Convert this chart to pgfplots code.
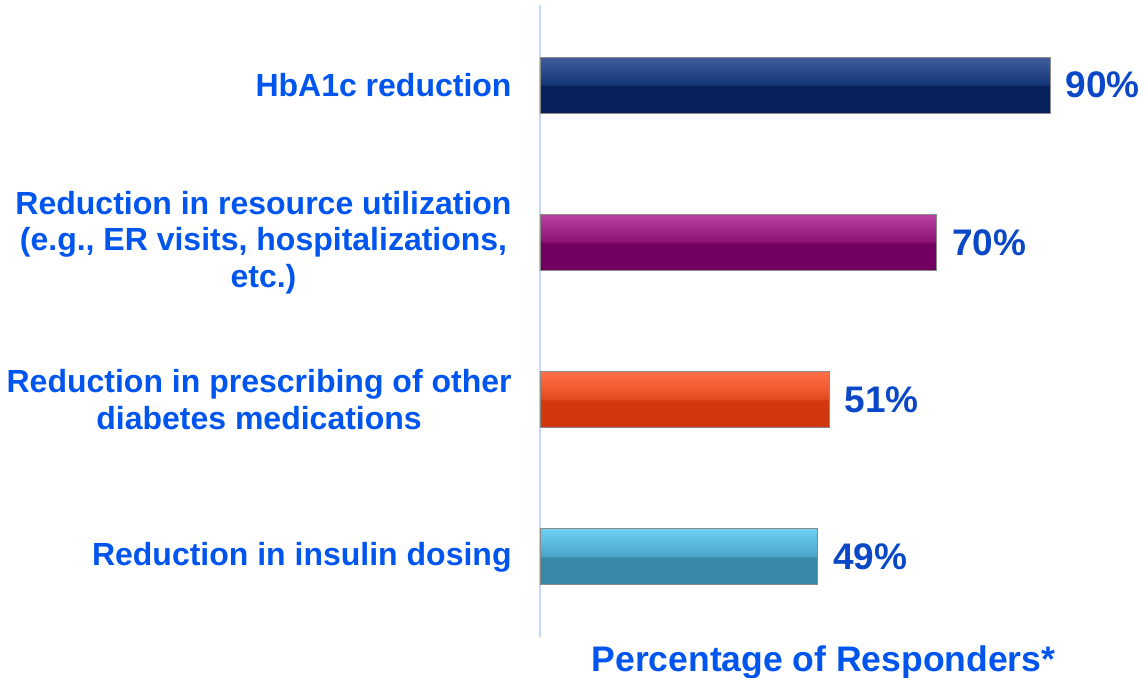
\documentclass[border=0pt]{standalone}
\usepackage{pgfplots}
\pgfplotsset{compat=1.18}
\usepackage{fontspec}
\setmainfont{Liberation Sans}
\definecolor{lblblue}{HTML}{0055EE}
\definecolor{valblue}{HTML}{0A48C8}
\definecolor{axblue}{HTML}{C4D8FF}
\definecolor{barline}{HTML}{8A8A8A}
\pgfdeclareverticalshading{navybar}{100bp}{color(0bp)=(rgb,255:red,5;green,28;blue,80); color(25bp)=(rgb,255:red,5;green,28;blue,80); color(27bp)=(rgb,255:red,7;green,33;blue,92); color(49bp)=(rgb,255:red,7;green,33;blue,92); color(51bp)=(rgb,255:red,22;green,55;blue,120); color(75bp)=(rgb,255:red,64;green,94;blue,158); color(100bp)=(rgb,255:red,64;green,94;blue,158)}
\pgfdeclareverticalshading{magbar}{100bp}{color(0bp)=(rgb,255:red,100;green,0;blue,85); color(25bp)=(rgb,255:red,100;green,0;blue,85); color(27bp)=(rgb,255:red,114;green,0;blue,96); color(49bp)=(rgb,255:red,114;green,0;blue,96); color(51bp)=(rgb,255:red,140;green,18;blue,115); color(75bp)=(rgb,255:red,186;green,64;blue,162); color(100bp)=(rgb,255:red,186;green,64;blue,162)}
\pgfdeclareverticalshading{orabar}{100bp}{color(0bp)=(rgb,255:red,190;green,50;blue,16); color(25bp)=(rgb,255:red,190;green,50;blue,16); color(27bp)=(rgb,255:red,210;green,56;blue,16); color(49bp)=(rgb,255:red,210;green,56;blue,16); color(51bp)=(rgb,255:red,228;green,76;blue,34); color(75bp)=(rgb,255:red,255;green,112;blue,72); color(100bp)=(rgb,255:red,255;green,112;blue,72)}
\pgfdeclareverticalshading{teabar}{100bp}{color(0bp)=(rgb,255:red,48;green,118;blue,150); color(25bp)=(rgb,255:red,48;green,118;blue,150); color(27bp)=(rgb,255:red,58;green,136;blue,168); color(49bp)=(rgb,255:red,58;green,136;blue,168); color(51bp)=(rgb,255:red,74;green,166;blue,202); color(75bp)=(rgb,255:red,110;green,208;blue,240); color(100bp)=(rgb,255:red,110;green,208;blue,240)}
\begin{document}
\begin{tikzpicture}
\useasboundingbox (-540bp,-41bp) rectangle (605bp,637bp);
\begin{axis}[
  at={(0,0)}, anchor=south west,
  scale only axis,
  width=567bp, height=632bp,
  xbar, bar width=56bp,
  xmin=0, xmax=100,
  ymin=-0.51, ymax=3.51,
  axis x line=none,
  axis y line*=left,
  y axis line style={draw=axblue, line width=1.3bp, -},
  ytick={0,1,2,3},
  yticklabels={{Reduction in insulin dosing},{Reduction in prescribing of other\\diabetes medications},{Reduction in resource utilization\\(e.g., ER visits, hospitalizations,\\etc.)},{HbA1c reduction}},
  ytick style={draw=none},
  yticklabel style={align=center, font=\fontsize{32bp}{36.5bp}\selectfont\bfseries, text=lblblue, inner sep=0pt, xshift=-24bp},
  nodes near coords={\pgfplotspointmeta\%},
  every node near coord/.append style={font=\fontsize{37bp}{40bp}\selectfont\bfseries, text=valblue, anchor=west, inner sep=0pt, xshift=15bp},
  point meta=explicit symbolic,
  clip=false,
]
\addplot[bar shift=0pt, draw=barline, line width=0.8bp, shading=navybar] coordinates {(90,3) [90]};
\addplot[bar shift=0pt, draw=barline, line width=0.8bp, shading=magbar] coordinates {(70,2) [70]};
\addplot[bar shift=0pt, draw=barline, line width=0.8bp, shading=orabar] coordinates {(51,1) [51]};
\addplot[bar shift=0pt, draw=barline, line width=0.8bp, shading=teabar] coordinates {(49,0) [49]};
\node[anchor=base, font=\fontsize{35.5bp}{40bp}\selectfont\bfseries, text=lblblue, inner sep=0pt] at ([yshift=-34bp]rel axis cs:0.5,0) {Percentage of Responders*};
\end{axis}
\end{tikzpicture}
\end{document}
